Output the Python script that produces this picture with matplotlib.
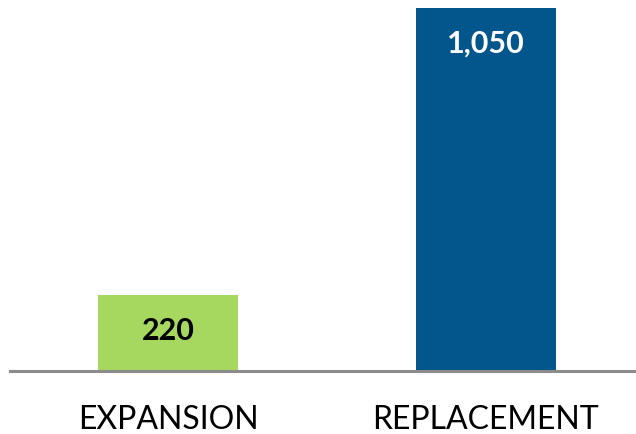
import matplotlib.pyplot as plt

categories = ['EXPANSION', 'REPLACEMENT']
values = [220, 1050]
value_labels = ['220', '1,050']
bar_colors = ['#A6D75F', '#03568C']
label_colors = ['black', 'white']

plt.rcParams['font.family'] = ['Lato', 'DejaVu Sans']

fig = plt.figure(figsize=(6.36, 4.35), dpi=100)
ax = fig.add_axes([10 / 636, 63 / 435, 626 / 636, 372 / 435])

x = list(range(len(categories)))
bars = ax.bar(x, values, width=0.44, color=bar_colors)

ax.set_xlim(-0.497, 1.472)
ax.set_ylim(0, 1076)

for rect, lab, col in zip(bars, value_labels, label_colors):
    ax.annotate(lab, (rect.get_x() + rect.get_width() / 2, rect.get_height()),
                textcoords='offset points', xytext=(0, -25),
                ha='center', va='center', fontsize=22, fontweight='bold', color=col)

for side in ['top', 'right', 'left']:
    ax.spines[side].set_visible(False)
ax.spines['bottom'].set_color('#8C8C8C')
ax.spines['bottom'].set_linewidth(2.2)

ax.set_yticks([])
ax.set_xticks(x)
ax.set_xticklabels(categories, fontsize=23)
ax.tick_params(axis='x', length=0, pad=24)

fig.savefig('out.png', dpi=100)
